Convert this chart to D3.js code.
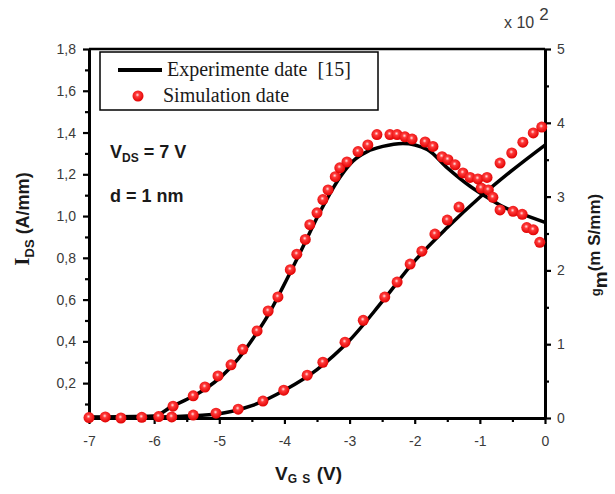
<!DOCTYPE html>
<html>
<head>
<meta charset="utf-8">
<script src="https://cdn.jsdelivr.net/npm/d3@7"></script>
<style>
  body { margin: 0; background: #fff; }
  svg { display: block; font-family: Arial, "Liberation Sans", sans-serif; }
  .axis path, .axis line { stroke: #000; }
  .axis text { fill: #3a3a3a; font-size: 14px; font-family: Arial, "Liberation Sans", sans-serif; }
</style>
</head>
<body>
<div id="chart"></div>
<script>
// measured curves, [V_GS (V), value]
// I_DS in A/mm (left axis), g_m in 10^2 mS/mm (right axis)
const idsExp = [[-7, 0.035], [-6.5, 0.035], [-6, 0.036], [-5.5, 0.042], [-5, 0.053], [-4.5, 0.092],
  [-4, 0.166], [-3.5, 0.265], [-3, 0.405], [-2.5, 0.59], [-2, 0.785], [-1.5, 0.945],
  [-1, 1.09], [-0.5, 1.22], [0, 1.34]];
const idsSim = [[-7, 0.035], [-6.75, 0.038], [-6.51, 0.033], [-6.19, 0.036], [-5.93, 0.04],
  [-5.73, 0.038], [-5.4, 0.047], [-5.05, 0.056], [-4.71, 0.075], [-4.33, 0.114], [-4.01, 0.166],
  [-3.65, 0.238], [-3.41, 0.3], [-3.07, 0.396], [-2.79, 0.501], [-2.46, 0.612], [-2.27, 0.684],
  [-2.07, 0.77], [-1.89, 0.832], [-1.69, 0.914], [-1.5, 0.981], [-1.32, 1.043], [-0.98, 1.134],
  [-0.69, 1.254], [-0.51, 1.302], [-0.34, 1.354], [-0.18, 1.398], [-0.05, 1.426]];
const gmExp = [[-7, 0.014], [-6, 0.027], [-5.74, 0.15], [-5.48, 0.26], [-5.22, 0.39], [-4.97, 0.56],
  [-4.71, 0.8], [-4.48, 1.08], [-4.26, 1.38], [-4.02, 1.78], [-3.76, 2.24], [-3.45, 2.8],
  [-3.15, 3.26], [-2.95, 3.48], [-2.73, 3.61], [-2.49, 3.68], [-2.18, 3.72], [-1.81, 3.64],
  [-1.5, 3.39], [-1.15, 3.14], [-0.89, 2.99], [-0.64, 2.86], [-0.34, 2.76], [0, 2.65]];
const gmSim = [[-5.71, 0.16], [-5.4, 0.3], [-5.22, 0.42], [-5.02, 0.57], [-4.82, 0.72], [-4.64, 0.93],
  [-4.42, 1.18], [-4.25, 1.45], [-4.1, 1.64], [-3.91, 2.01], [-3.81, 2.22], [-3.68, 2.42],
  [-3.61, 2.62], [-3.5, 2.78], [-3.41, 2.96], [-3.33, 3.09], [-3.22, 3.27], [-3.15, 3.39],
  [-3.04, 3.47], [-2.87, 3.61], [-2.72, 3.7], [-2.58, 3.84], [-2.38, 3.84], [-2.27, 3.84],
  [-2.15, 3.81], [-2.04, 3.78], [-1.84, 3.74], [-1.72, 3.68], [-1.58, 3.54], [-1.49, 3.5],
  [-1.38, 3.43], [-1.26, 3.32], [-1.15, 3.26], [-1.03, 3.24], [-0.89, 3.26], [-0.87, 3.09],
  [-0.8, 2.99], [-0.69, 2.82], [-0.49, 2.8], [-0.35, 2.76], [-0.28, 2.58], [-0.18, 2.55], [-0.08, 2.38]];

const xTicks = [-7, -6, -5, -4, -3, -2, -1, 0];
const leftTicks = [0.2, 0.4, 0.6, 0.8, 1.0, 1.2, 1.4, 1.6, 1.8];
const rightTicks = [0, 1, 2, 3, 4, 5];

const width = 615, height = 494;
const margin = {top: 49, right: 70, bottom: 76, left: 89};

let svg = d3.select("#chart").append("svg")
    .attr("width", width)
    .attr("height", height);

let x = d3.scaleLinear().domain([-7, 0]).range([margin.left, width - margin.right]);
let yL = d3.scaleLinear().domain([0.033, 1.8]).range([height - margin.bottom, margin.top]);
let yR = d3.scaleLinear().domain([0, 5]).range([height - margin.bottom, margin.top]);

// sphere-looking markers
let grad = svg.append("defs").append("radialGradient")
    .attr("id", "ball").attr("cx", "45%").attr("cy", "40%").attr("r", "60%");
grad.append("stop").attr("offset", "0%").attr("stop-color", "#ffe6e6");
grad.append("stop").attr("offset", "30%").attr("stop-color", "#ff3a3a");
grad.append("stop").attr("offset", "100%").attr("stop-color", "#e00000");

let bottomY = height - margin.bottom;
let rightX = width - margin.right;

// top frame line
svg.append("line")
    .attr("x1", margin.left).attr("x2", rightX)
    .attr("y1", margin.top).attr("y2", margin.top)
    .attr("stroke", "#000").attr("stroke-width", 2.5);

// axes, major then minor ticks
function minor(lo, hi, step) {
  let out = [];
  for (let v = lo; v <= hi + 1e-9; v += step) out.push(+v.toFixed(3));
  return out;
}

let gx = svg.append("g").attr("class", "axis")
    .attr("transform", "translate(0," + bottomY + ")")
    .call(d3.axisBottom(x).tickValues(xTicks).tickSizeInner(6).tickSizeOuter(0).tickPadding(12));
svg.append("g").attr("class", "axis")
    .attr("transform", "translate(0," + bottomY + ")")
    .call(d3.axisBottom(x).tickValues(minor(-6.5, -0.5, 1)).tickSize(4).tickFormat(""))
    .select(".domain").remove();

let gl = svg.append("g").attr("class", "axis")
    .attr("transform", "translate(" + margin.left + ",0)")
    .call(d3.axisLeft(yL).tickValues(leftTicks).tickSizeInner(6).tickSizeOuter(0).tickPadding(7)
      .tickFormat(d => d.toFixed(1).replace(".", ",")));
svg.append("g").attr("class", "axis")
    .attr("transform", "translate(" + margin.left + ",0)")
    .call(d3.axisLeft(yL).tickValues(minor(0.1, 1.7, 0.2)).tickSize(4).tickFormat(""))
    .select(".domain").remove();

let gr = svg.append("g").attr("class", "axis")
    .attr("transform", "translate(" + rightX + ",0)")
    .call(d3.axisRight(yR).tickValues(rightTicks).tickSizeInner(6).tickSizeOuter(0).tickPadding(6)
      .tickFormat(d3.format("d")));
svg.append("g").attr("class", "axis")
    .attr("transform", "translate(" + rightX + ",0)")
    .call(d3.axisRight(yR).tickValues(minor(0.5, 4.5, 1)).tickSize(4).tickFormat(""))
    .select(".domain").remove();

svg.selectAll(".axis .domain").attr("stroke-width", 3);
svg.selectAll(".axis .tick line").attr("stroke-width", 2.2);
gx.selectAll(".tick text").text(d => d < 0 ? "-" + Math.abs(d) : d);

// curves
let lineL = d3.line().x(d => x(d[0])).y(d => yL(d[1])).curve(d3.curveMonotoneX);
let lineR = d3.line().x(d => x(d[0])).y(d => yR(d[1])).curve(d3.curveMonotoneX);

svg.append("path").datum(idsExp)
    .attr("d", lineL).attr("fill", "none").attr("stroke", "#000").attr("stroke-width", 3.5);
svg.append("path").datum(gmExp)
    .attr("d", lineR).attr("fill", "none").attr("stroke", "#000").attr("stroke-width", 3.5);

svg.selectAll(".ids-dot").data(idsSim).enter().append("circle")
    .attr("class", "ids-dot")
    .attr("cx", d => x(d[0])).attr("cy", d => yL(d[1])).attr("r", 5.5)
    .attr("fill", "url(#ball)");
svg.selectAll(".gm-dot").data(gmSim).enter().append("circle")
    .attr("class", "gm-dot")
    .attr("cx", d => x(d[0])).attr("cy", d => yR(d[1])).attr("r", 5.5)
    .attr("fill", "url(#ball)");

// legend
let lg = svg.append("g");
lg.append("rect")
    .attr("x", 100).attr("y", 52).attr("width", 278).attr("height", 58)
    .attr("fill", "#fff").attr("stroke", "#000").attr("stroke-width", 1.5);
lg.append("line")
    .attr("x1", 118).attr("x2", 162).attr("y1", 70).attr("y2", 70)
    .attr("stroke", "#000").attr("stroke-width", 4);
lg.append("text").attr("x", 167).attr("y", 76)
    .attr("font-family", "'Times New Roman', 'Liberation Serif', serif").attr("font-size", 20).attr("fill", "#1a1a1a")
    .attr("xml:space", "preserve")
    .text("Experimente date  [15]");
lg.append("circle").attr("cx", 138).attr("cy", 96).attr("r", 5.5).attr("fill", "url(#ball)");
lg.append("text").attr("x", 163).attr("y", 102)
    .attr("font-family", "'Times New Roman', 'Liberation Serif', serif").attr("font-size", 20).attr("fill", "#1a1a1a")
    .text("Simulation date");

// annotations
let vds = svg.append("text").attr("x", 110).attr("y", 158)
    .attr("font-size", 18).attr("font-weight", "bold").attr("fill", "#1a1a1a");
vds.append("tspan").text("V");
vds.append("tspan").attr("font-size", 12).attr("dy", 4).text("DS");
vds.append("tspan").attr("dy", -4).text(" = 7 V");
svg.append("text").attr("x", 110).attr("y", 202)
    .attr("font-size", 18).attr("font-weight", "bold").attr("fill", "#1a1a1a")
    .text("d = 1 nm");

// multiplier above right axis
let mult = svg.append("text").attr("x", 504).attr("y", 28)
    .attr("font-size", 16).attr("fill", "#3a3a3a");
mult.append("tspan").text("x 10");
mult.append("tspan").attr("dx", 5).attr("dy", -8).attr("font-size", 17).text("2");

// axis titles
let xt = svg.append("text").attr("x", 275).attr("y", 480)
    .attr("font-size", 19).attr("font-weight", "bold").attr("fill", "#1a1a1a");
xt.append("tspan").text("V");
xt.append("tspan").attr("font-size", 12).attr("dy", 3).attr("letter-spacing", 1).text("G S");
xt.append("tspan").attr("dy", -3).text(" (V)");

let ylt = svg.append("text")
    .attr("transform", "translate(29,219) rotate(-90)")
    .attr("text-anchor", "middle")
    .attr("font-size", 18).attr("font-weight", "bold").attr("fill", "#1a1a1a");
ylt.append("tspan").attr("font-family", "'Times New Roman', 'Liberation Serif', serif").attr("font-size", 21).text("I");
ylt.append("tspan").attr("font-size", 13).attr("dy", 5).text("DS");
ylt.append("tspan").attr("dy", -5).text(" (A/mm)");

let yrt = svg.append("text")
    .attr("transform", "translate(600,245) rotate(-90)")
    .attr("text-anchor", "middle")
    .attr("font-size", 17).attr("font-weight", "bold").attr("fill", "#1a1a1a");
yrt.append("tspan").attr("font-size", 13).text("g");
yrt.append("tspan").attr("font-size", 19).attr("dy", 7).text("m");
yrt.append("tspan").attr("dy", -7).text("(m S/mm)");
</script>
</body>
</html>
